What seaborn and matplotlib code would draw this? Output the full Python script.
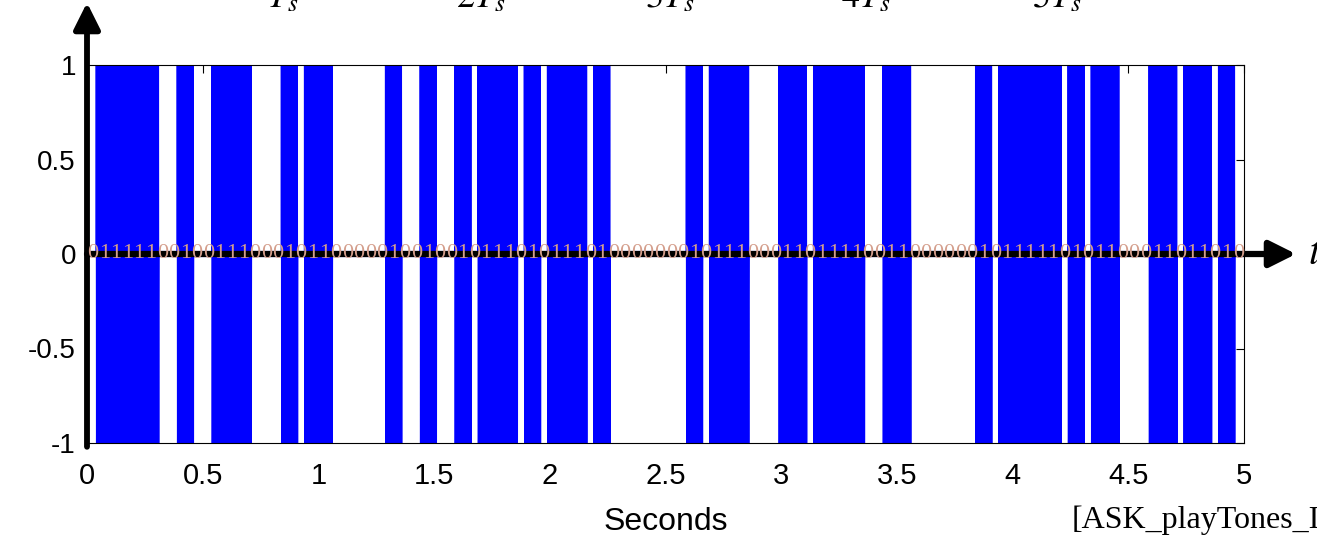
import numpy as np
import pandas as pd
import matplotlib
matplotlib.use("Agg")
import matplotlib.pyplot as plt
import seaborn as sns

# ---------------- data ----------------
bits = ("0111110010" "0111000101" "1000001001" "0010111010" "1110100000"
        "0010111000" "1101111001" "1000000101" "1111010110" "0011011010")
bit_duration = 0.05          # seconds per bit (Ts)
carrier_hz = 400             # carrier frequency of the ASK tone
samples_per_bit = 480

x_ticks = [0, 0.5, 1, 1.5, 2, 2.5, 3, 3.5, 4, 4.5, 5]
x_tick_labels = ["0", "0.5", "1", "1.5", "2", "2.5", "3", "3.5", "4", "4.5", "5"]
y_ticks = [-1, -0.5, 0, 0.5, 1]
y_tick_labels = ["-1", "-0.5", "0", "0.5", "1"]
top_labels = [r"$T_s$", r"$2T_s$", r"$3T_s$", r"$4T_s$", r"$5T_s$"]
top_label_px = [283, 481, 670, 866, 1057]
x_label = "Seconds"
source_label = "[ASK_playTones_I"
axis_t_label = r"$t$"

# ---------------- build ASK waveform from the bits ----------------
amp = np.repeat([int(b) for b in bits], samples_per_bit)
t = np.arange(len(amp)) * (bit_duration / samples_per_bit)
wave = amp * np.sin(2 * np.pi * carrier_hz * t)
df = pd.DataFrame({"t": t, "s": wave})

# ---------------- figure ----------------
sns.set_theme(style="white")
plt.rcParams["font.family"] = ["Liberation Sans", "DejaVu Sans"]
plt.rcParams["mathtext.fontset"] = "stix"
plt.rcParams["text.color"] = "black"

W, H = 1317, 536
fig = plt.figure(figsize=(W / 100, H / 100), dpi=100)
ax = fig.add_axes([87 / W, 1 - 443 / H, (1244 - 87) / W, (443 - 65) / H])

sns.lineplot(data=df, x="t", y="s", ax=ax, color="#0000ff", lw=4.4,
             estimator=None, sort=False, zorder=2)

ax.set_xlim(0, 5)
ax.set_ylim(-1, 1)
ax.set_xticks(x_ticks)
ax.set_xticklabels(x_tick_labels)
ax.set_yticks(y_ticks)
ax.set_yticklabels(y_tick_labels)
ax.tick_params(direction="in", length=6, width=0.8, colors="black",
               top=True, right=True)
ax.tick_params(axis="x", labelsize=21, pad=14)
ax.tick_params(axis="y", labelsize=20, pad=8)
ax.set_xlabel(x_label, fontsize=23, labelpad=12, color="black")
ax.set_ylabel("")
for sp in ax.spines.values():
    sp.set_color("black")
    sp.set_linewidth(0.8)

# bit labels along the zero line
for k, b in enumerate(bits):
    ax.text((k + 0.5) * bit_duration, 0, b, ha="center", va="center",
            fontsize=16, family="Liberation Serif", color="#d49e8c", zorder=5)

# thick black axis arrows
ax.annotate("", xy=(0, 1.33), xytext=(0, -1.02), xycoords="data",
            arrowprops=dict(arrowstyle="-|>", lw=4.2, color="black",
                            mutation_scale=40, shrinkA=0, shrinkB=0),
            annotation_clip=False, zorder=4)
ax.annotate("", xy=(5.225, 0), xytext=(0, 0), xycoords="data",
            arrowprops=dict(arrowstyle="-|>", lw=4.5, color="black",
                            mutation_scale=40, shrinkA=0, shrinkB=0),
            annotation_clip=False, zorder=4)
fig.text(1308 / W, 1 - 253 / H, axis_t_label, fontsize=30, ha="left",
         va="center", color="black")

# cut-off labels at the top
for lab, px in zip(top_labels, top_label_px):
    fig.text(px / W, 1 - 7 / H, lab, fontsize=26, ha="center",
             va="baseline", color="black")

fig.text(1072 / W, 1 - 528 / H, source_label, fontsize=23,
         family="Liberation Serif", ha="left", va="baseline", color="black")

fig.savefig("out.png", dpi=100)
